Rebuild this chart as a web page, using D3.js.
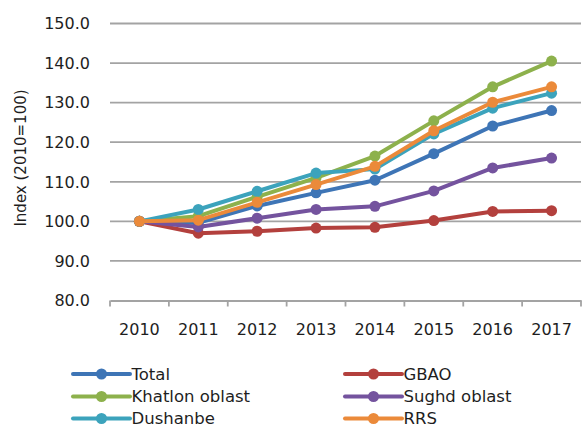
<!DOCTYPE html>
<html>
<head>
<meta charset="utf-8">
<script src="https://cdn.jsdelivr.net/npm/d3@7"></script>
<style>
  html, body { margin: 0; padding: 0; background: #fff; }
  svg { display: block; font-family: "DejaVu Sans", "Liberation Sans", sans-serif; }
</style>
</head>
<body>
<svg id="chart" width="582" height="429"></svg>
<script>
// Price index by region, 2010 = 100
const years = ["2010", "2011", "2012", "2013", "2014", "2015", "2016", "2017"];
const yTicks = [80, 90, 100, 110, 120, 130, 140, 150];

const total    = [100, 99.6, 103.9, 107.2, 110.4, 117.1, 124.1, 128.0];
const gbao     = [100, 97.0, 97.5, 98.3, 98.5, 100.2, 102.5, 102.7];
const khatlon  = [100, 101.3, 106.2, 111.0, 116.5, 125.4, 134.0, 140.5];
const sughd    = [100, 98.6, 100.8, 103.0, 103.8, 107.7, 113.5, 116.0];
const dushanbe = [100, 103.0, 107.6, 112.2, 113.2, 122.1, 128.6, 132.4];
const rrs      = [100, 100.3, 104.8, 109.3, 113.9, 122.9, 130.1, 134.0];

const seriesNames  = ["Total", "GBAO", "Khatlon oblast", "Sughd oblast", "Dushanbe", "RRS"];
const seriesValues = [total, gbao, khatlon, sughd, dushanbe, rrs];
const seriesColors = ["#3e75b6", "#b3403d", "#8db14c", "#74539e", "#3ca3bc", "#eb8a3a"];

const svg = d3.select("#chart");
const plotLeft = 110, plotRight = 581, plotTop = 23.5, plotBottom = 300.5;
const textColor = "#1e1e1e";

const x = d3.scaleBand().domain(years).range([plotLeft, plotRight]);
const y = d3.scaleLinear().domain([80, 150]).range([plotBottom, plotTop]);
const cx = d => x(d) + x.bandwidth() / 2;

// horizontal gridlines
svg.append("g")
  .selectAll("line")
  .data(yTicks.filter(t => t > 80))
  .join("line")
  .attr("x1", plotLeft).attr("x2", plotRight)
  .attr("y1", d => y(d)).attr("y2", d => y(d))
  .attr("stroke", "#a3a3a3").attr("stroke-width", 1.8);

// y tick labels
svg.append("g")
  .selectAll("text")
  .data(yTicks)
  .join("text")
  .attr("x", 90).attr("y", d => y(d))
  .attr("dy", "0.36em")
  .attr("text-anchor", "end")
  .attr("font-size", 16)
  .attr("fill", textColor)
  .text(d => d3.format(".1f")(d));

// x axis with ticks between categories
const xAxis = d3.axisBottom(x).tickSize(0).tickPadding(0);
const gx = svg.append("g")
  .attr("transform", `translate(0,${plotBottom})`)
  .call(xAxis);
gx.select(".domain").attr("stroke", "#a3a3a3").attr("stroke-width", 1.8);
gx.selectAll(".tick text")
  .attr("y", 34).attr("dy", null)
  .attr("font-size", 16).attr("fill", textColor)
  .attr("font-family", "\"DejaVu Sans\", sans-serif");
gx.append("g")
  .selectAll("line")
  .data(d3.range(years.length + 1))
  .join("line")
  .attr("x1", i => plotLeft + i * x.step()).attr("x2", i => plotLeft + i * x.step())
  .attr("y1", 0).attr("y2", 6)
  .attr("stroke", "#a3a3a3").attr("stroke-width", 1.8);

// y axis title
svg.append("text")
  .attr("transform", "translate(26,158) rotate(-90)")
  .attr("text-anchor", "middle")
  .attr("font-size", 15)
  .attr("fill", textColor)
  .text("Index (2010=100)");

// series lines and markers
const line = d3.line().x((d, i) => cx(years[i])).y(d => y(d));
seriesValues.forEach((vals, s) => {
  const g = svg.append("g");
  g.append("path")
    .attr("d", line(vals))
    .attr("fill", "none")
    .attr("stroke", seriesColors[s])
    .attr("stroke-width", 4)
    .attr("stroke-linejoin", "round");
  g.selectAll("circle")
    .data(vals)
    .join("circle")
    .attr("cx", (d, i) => cx(years[i]))
    .attr("cy", d => y(d))
    .attr("r", 5.5)
    .attr("fill", seriesColors[s]);
});

// legend: two columns, three rows
const legendCols = [73, 345];
const legendRows = [374, 396.5, 418.5];
const legend = svg.append("g");
seriesNames.forEach((name, s) => {
  const col = s % 2, row = Math.floor(s / 2);
  const lx = legendCols[col], ly = legendRows[row];
  const item = legend.append("g").attr("transform", `translate(${lx},${ly})`);
  item.append("line")
    .attr("x1", 0).attr("x2", 57).attr("y1", 0).attr("y2", 0)
    .attr("stroke", seriesColors[s]).attr("stroke-width", 4)
    .attr("stroke-linecap", "round");
  item.append("circle")
    .attr("cx", 28.5).attr("cy", 0).attr("r", 5.5)
    .attr("fill", seriesColors[s]);
  item.append("text")
    .attr("x", 58.5).attr("y", 0).attr("dy", "0.36em")
    .attr("font-size", 16.5)
    .attr("fill", textColor)
    .text(name);
});
</script>
</body>
</html>
